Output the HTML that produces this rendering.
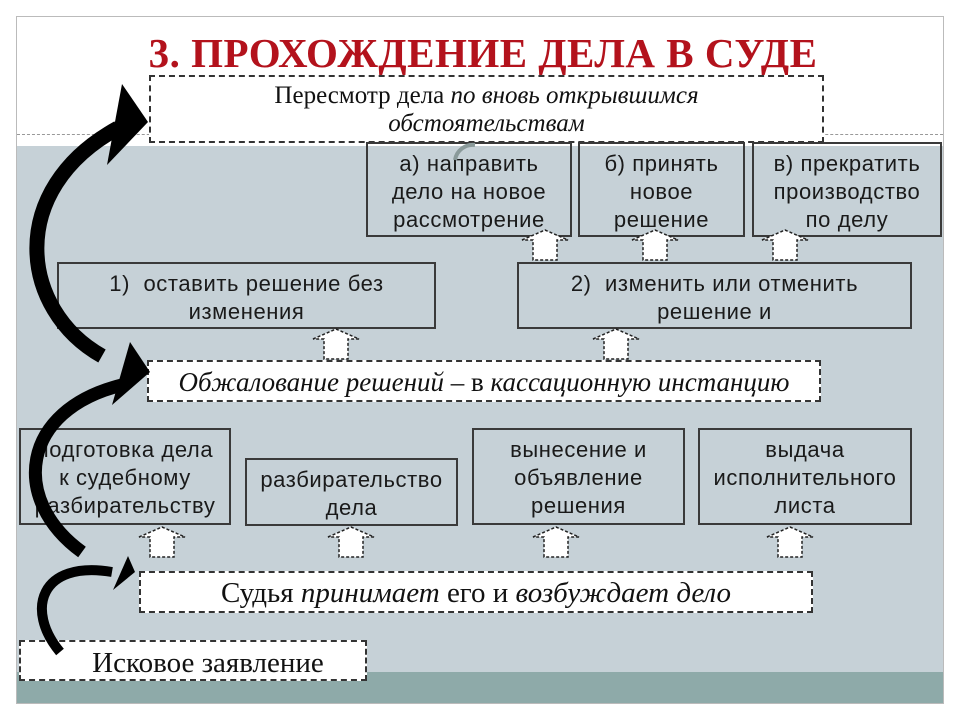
<!DOCTYPE html>
<html><head><meta charset="utf-8"><style>
body{margin:0;width:960px;height:720px;background:#fff;position:relative;overflow:hidden;font-family:"Liberation Sans",sans-serif}
.a{position:absolute;box-sizing:border-box}
.s{border:2px solid #3a3a3a;text-align:center;color:#1a1a1a;font-size:22px;letter-spacing:0.6px;line-height:28px;white-space:nowrap}
.d{border:2px dashed #333;background:#fff;font-family:"Liberation Serif",serif;color:#111;text-align:center;white-space:nowrap}
i{font-style:italic}
</style></head><body>
<div class="a" style="left:16px;top:16px;width:928px;height:688px;border:1px solid #bbb;background:#fff"></div>
<div class="a" style="left:17px;top:146px;width:926px;height:526px;background:#c6d1d7"></div>
<div class="a" style="left:17px;top:672px;width:926px;height:31px;background:#8eaaa9"></div>
<div class="a" style="left:17px;top:134px;width:926px;border-top:1px dashed #999"></div>
<div class="a" style="left:60px;top:28px;width:846px;text-align:center;font-family:'Liberation Serif',serif;font-weight:bold;font-size:41px;letter-spacing:0.5px;color:#b3121c;line-height:50px">3. ПРОХОЖДЕНИЕ ДЕЛА В СУДЕ</div>

<div class="a d" style="left:149px;top:75px;width:675px;height:68px;font-size:25px;line-height:28px;padding-top:5px">Пересмотр дела <i>по вновь открывшимся<br>обстоятельствам</i></div>

<div class="a s" style="left:366px;top:142px;width:206px;height:95px;padding-top:6px">а) направить<br>дело на новое<br>рассмотрение</div>
<div class="a s" style="left:578px;top:142px;width:167px;height:95px;padding-top:6px">б) принять<br>новое<br>решение</div>
<div class="a s" style="left:752px;top:142px;width:190px;height:95px;padding-top:6px">в) прекратить<br>производство<br>по делу</div>

<div class="a s" style="left:57px;top:262px;width:379px;height:67px;padding-top:6px">1)&nbsp; оставить решение без<br>изменения</div>
<div class="a s" style="left:517px;top:262px;width:395px;height:67px;padding-top:6px">2)&nbsp; изменить или отменить<br>решение и</div>

<div class="a d" style="left:147px;top:360px;width:674px;height:42px;font-size:27px;line-height:40px"><i>Обжалование решений –</i> в <i>кассационную инстанцию</i></div>

<div class="a s" style="left:19px;top:428px;width:212px;height:97px;padding-top:6px;overflow:hidden">подготовка дела<br>к судебному<br>разбирательству</div>
<div class="a s" style="left:245px;top:458px;width:213px;height:68px;padding-top:6px">разбирательство<br>дела</div>
<div class="a s" style="left:472px;top:428px;width:213px;height:97px;padding-top:6px">вынесение и<br>объявление<br>решения</div>
<div class="a s" style="left:698px;top:428px;width:214px;height:97px;padding-top:6px">выдача<br>исполнительного<br>листа</div>

<div class="a d" style="left:139px;top:571px;width:674px;height:42px;font-size:29px;line-height:40px">Судья <i>принимает</i> его и <i>возбуждает дело</i></div>
<div class="a d" style="left:19px;top:640px;width:348px;height:41px;font-size:29px;line-height:42px;padding-left:30px">Исковое заявление</div>

<svg class="a" style="left:0;top:0" width="960" height="720">
<defs><g id="ua"><polygon points="0,10 23,0 46,10 35,10 35,30 11,30 11,10" fill="#fff" stroke="#222" stroke-width="1.5" stroke-dasharray="3,2"/></g></defs>
<use href="#ua" x="522" y="230"/><use href="#ua" x="632" y="230"/><use href="#ua" x="762" y="230"/>
<use href="#ua" x="313" y="329"/><use href="#ua" x="593" y="329"/>
<use href="#ua" x="139" y="527"/><use href="#ua" x="328" y="527"/><use href="#ua" x="533" y="527"/><use href="#ua" x="767" y="527"/>
<path d="M455,160 A18,18 0 0 1 475,145" fill="none" stroke="#8a9a9a" stroke-width="4"/>
<path d="M102,356 C20,310 5,190 118,128" fill="none" stroke="#000" stroke-width="15"/>
<polygon points="122,84 148,122 107,165" fill="#000"/>
<path d="M82,552 C10,500 20,410 122,385" fill="none" stroke="#000" stroke-width="13"/>
<polygon points="130,342 150,372 112,405" fill="#000"/>
<path d="M60,652 C25,610 40,560 112,572" fill="none" stroke="#000" stroke-width="10"/>
<polygon points="128,556 135,572 113,590" fill="#000"/>
</svg>
</body></html>
